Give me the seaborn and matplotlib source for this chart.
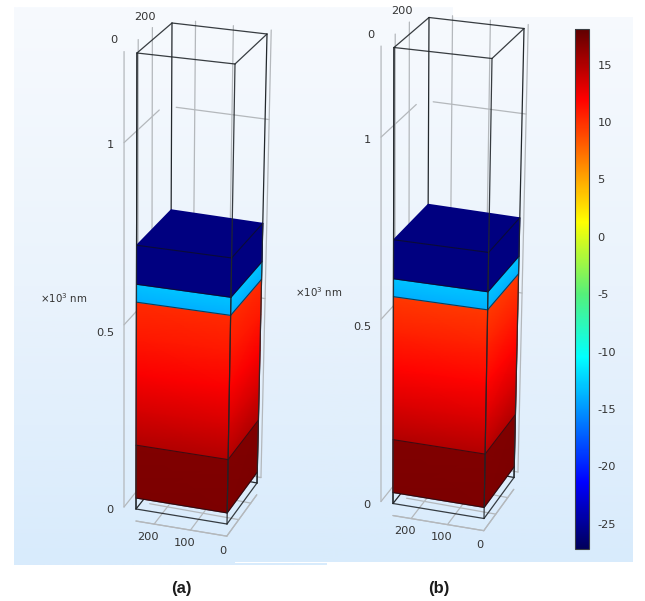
import numpy as np
import pandas as pd
import matplotlib
matplotlib.use('Agg')
import matplotlib.pyplot as plt
import seaborn as sns
from matplotlib.cm import ScalarMappable
from matplotlib.colors import Normalize, LinearSegmentedColormap
from matplotlib.patches import Rectangle

# layer heights in nm, with the potential read at each height
dark_z = [30, 175]
dark_v = [17.0, 16.8]
red_z = [175, 270, 370, 470, 567]
red_v_a = [15.0, 13.5, 12.1, 11.0, 10.2]
red_v_b = [15.0, 13.4, 11.9, 10.6, 9.6]
cyan_z = [567, 616]
cyan_v = [-13.9, -13.0]
navy_z = [616, 723]
navy_v = [-25.8, -25.8]

box_x = 250
box_z = 1250
x_ticks = [0, 100, 200]
z_ticks = [0, 500, 1000]
z_labels = ['0', '0.5', '1']

cbar_ticks = [15, 10, 5, 0, -5, -10, -15, -20, -25]
cbar_min = -27.2
cbar_max = 18.1
stop_v = [-27.2, -21.4, -10.5, -5, 1.3, 12, 18.1]
stop_c = ['#00005a', '#0000ff', '#00ffff', '#55f07a', '#ffff00', '#ff0000', '#600000']

W, H = 645, 601

# screen corners of the view box: (x, depth) -> (bottom px, top px)
corners = {
    (0, 0): ((227, 524), (235, 64)),
    (1, 0): ((136, 509), (137, 53)),
    (0, 1): ((257, 483), (267, 34)),
    (1, 1): ((170, 466), (172, 23)),
}

sns.set_theme(style='white')
plt.rcParams['font.family'] = ['DejaVu Sans']
plt.rcParams['axes.unicode_minus'] = False

pos = [(v - stop_v[0]) / (stop_v[-1] - stop_v[0]) for v in stop_v]
cmap = LinearSegmentedColormap.from_list('rb', list(zip(pos, stop_c)), N=512)
norm = Normalize(cbar_min, cbar_max)


def project(x, d, z, dx=0, dy=0):
    u, w, t = x / box_x, d / box_x, z / box_z
    px, py = 0, 0
    for (i, j), (bot, top) in corners.items():
        k = (u if i else 1 - u) * (w if j else 1 - w)
        px += k * (bot[0] + (top[0] - bot[0]) * t)
        py += k * (bot[1] + (top[1] - bot[1]) * t)
    return px + dx, py + dy


def segs(ax, lines, dx, dy, color, lw, alpha=1.0, zorder=2):
    rows = []
    for n, (p, q) in enumerate(lines):
        for pt in (p, q):
            px, py = project(*pt, dx, dy)
            rows.append({'seg': n, 'px': px, 'py': py})
    sns.lineplot(data=pd.DataFrame(rows), x='px', y='py', units='seg', estimator=None, sort=False,
                 color=color, lw=lw, alpha=alpha, zorder=zorder, ax=ax, legend=False)


def face(ax, xa, da, xb, db, z, v, dx, dy):
    pa = [project(xa, da, h, dx, dy) for h in z]
    pb = [project(xb, db, h, dx, dy) for h in z]
    X = np.array([[a[0], b[0]] for a, b in zip(pa, pb)])
    Y = np.array([[a[1], b[1]] for a, b in zip(pa, pb)])
    C = np.array([[c, c] for c in v])
    ax.pcolormesh(X, Y, C, cmap=cmap, norm=norm, shading='gouraud', zorder=3)


def panel(ax, red_v, dx, dy):
    grid, wall_x, wall_d, floor = '#b4b8bc', 283, 283, -33

    # walls and floor
    lines = []
    for t in x_ticks:
        lines.append(((wall_x, t, 0), (wall_x, t, box_z)))
        lines.append(((t, wall_d, 0), (t, wall_d, box_z)))
        lines.append(((t, 0, floor), (t, box_x, floor)))
        lines.append(((0, t, floor), (box_x, t, floor)))
    for z in z_ticks:
        lines.append(((wall_x, 0, z), (wall_x, box_x, z)))
        lines.append(((box_x, wall_d, z), (0, wall_d, z)))
    lines.append(((box_x, 0, floor), (0, 0, floor)))
    lines.append(((0, 0, floor), (0, box_x, floor)))
    segs(ax, lines, dx, dy, grid, 0.9)

    # box, back part
    back = [((box_x, box_x, 0), (box_x, box_x, box_z)),
            ((0, box_x, 0), (0, box_x, box_z)),
            ((box_x, 0, 0), (box_x, 0, box_z)),
            ((box_x, 0, 0), (box_x, box_x, 0)),
            ((0, box_x, 0), (box_x, box_x, 0))]
    segs(ax, back, dx, dy, '#23282c', 0.9)

    # layers, front and right side
    for z, v in [(dark_z, dark_v), (red_z, red_v), (cyan_z, cyan_v), (navy_z, navy_v)]:
        face(ax, box_x, 0, 0, 0, z, v, dx, dy)
        face(ax, 0, 0, 0, box_x, z, v, dx, dy)
    top = navy_z[-1]
    p = [[project(box_x, box_x, top, dx, dy), project(0, box_x, top, dx, dy)],
         [project(box_x, 0, top, dx, dy), project(0, 0, top, dx, dy)]]
    ax.pcolormesh(np.array(p)[:, :, 0], np.array(p)[:, :, 1], np.full((2, 2), navy_v[-1]), cmap=cmap,
                  norm=norm, shading='gouraud', zorder=3)

    # edges on top of the block
    edges = [((0, 0, dark_z[0]), (0, 0, navy_z[-1]))]
    for z in [dark_z[0], dark_z[1], red_z[-1], cyan_z[-1], navy_z[-1]]:
        edges.append(((box_x, 0, z), (0, 0, z)))
        edges.append(((0, 0, z), (0, box_x, z)))
    segs(ax, edges, dx, dy, '#101018', 0.8, alpha=0.7, zorder=4)

    front = [((0, 0, 0), (0, 0, box_z)),
             ((box_x, 0, 0), (box_x, 0, box_z)),
             ((0, box_x, 0), (0, box_x, navy_z[-1])),
             ((box_x, 0, 0), (0, 0, 0)),
             ((0, 0, 0), (0, box_x, 0)),
             ((box_x, 0, box_z), (0, 0, box_z)),
             ((0, 0, box_z), (0, box_x, box_z)),
             ((0, box_x, box_z), (box_x, box_x, box_z)),
             ((box_x, box_x, box_z), (box_x, 0, box_z))]
    segs(ax, front, dx, dy, '#23282c', 0.9, alpha=0.9, zorder=4)

    # tick labels
    ink = '#333333'
    for z, s, off in zip(z_ticks, z_labels, [(-26, 1), (-31, 6), (-26, 1)]):
        px, py = project(box_x, 0, z, dx, dy)
        ax.text(px + off[0], py + off[1], s, ha='center', va='center', fontsize=8.2, color=ink)
    for t, s, off in zip(x_ticks[::-1], ['200', '100', '0'], [(-6, 25), (-6, 25), (-4, 27)]):
        px, py = project(t, 0, 0, dx, dy)
        ax.text(px + off[0], py + off[1], s, ha='center', va='center', fontsize=8.2, color=ink)
    ax.text(114 + dx, 40 + dy, '0', ha='center', va='center', fontsize=8.2, color=ink)
    ax.text(145 + dx, 17 + dy, '200', ha='center', va='center', fontsize=8.2, color=ink)


fig = plt.figure(figsize=(W / 100, H / 100), dpi=100)
ax = fig.add_axes([0, 0, 1, 1])

bg = sns.blend_palette(['#f7fafe', '#eaf3fc', '#d8ebfc'], n_colors=256, as_cmap=True)
ax.imshow(np.arange(256).reshape(-1, 1), cmap=bg, extent=(14, 633, 565, 7), aspect='auto', zorder=0)
# the screenshot's background has a couple of uneven edges
ax.add_patch(Rectangle((453, 5), 182, 12, color='white', lw=0, zorder=1))
ax.add_patch(Rectangle((327, 562), 310, 5, color='white', lw=0, zorder=1))
ax.add_patch(Rectangle((235, 562), 92, 1.2, color='white', lw=0, zorder=1))

panel(ax, red_v_a, 0, 0)
panel(ax, red_v_b, 257, -5.5)

for x, y in [(64, 298), (319, 292)]:
    ax.text(x, y, r'$\times 10^3$ nm', ha='center', va='center', fontsize=7.4, color='#333333',
            math_fontfamily='dejavusans')
for x, s in [(181, '(a)'), (439, '(b)')]:
    ax.text(x, 588, s, ha='center', va='center', fontsize=12, fontweight='bold',
            family=['Liberation Sans'], color='#1c1c1c')

ax.set_xlim(0, W)
ax.set_ylim(H, 0)
ax.set_xlabel('')
ax.set_ylabel('')
ax.axis('off')

# colour bar
cax = fig.add_axes([575 / W, 1 - 549 / H, 14 / W, 520 / H])
cb = fig.colorbar(ScalarMappable(norm=norm, cmap=cmap), cax=cax)
cb.set_ticks(cbar_ticks)
cb.ax.tick_params(direction='in', length=2.5, width=0.8, left=True, right=True, color='#333333',
                  labelsize=8.2, labelcolor='#333333', pad=6)
cb.outline.set_edgecolor('#3a3f44')
cb.outline.set_linewidth(0.8)

fig.savefig('out.png', dpi=100)
